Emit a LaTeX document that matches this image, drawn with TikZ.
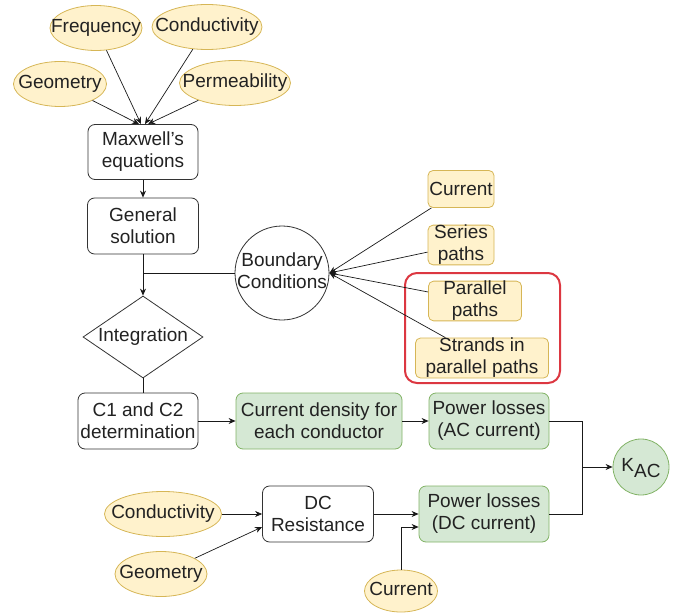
\documentclass[tikz,border=0pt]{standalone}
\usepackage{fontspec}
\setmainfont{Liberation Sans}
\usetikzlibrary{shapes.geometric,arrows.meta,calc}
\definecolor{yfill}{HTML}{FFF2CC}
\definecolor{ydraw}{HTML}{D6B656}
\definecolor{gfill}{HTML}{D5E8D4}
\definecolor{gdraw}{HTML}{82B366}
\definecolor{txt}{HTML}{222222}
\definecolor{redbox}{RGB}{220,55,65}
\newcommand{\zb}[1]{\makebox[0pt]{\begin{tabular}{@{}c@{}}#1\end{tabular}}}
\tikzset{
  base/.style={inner sep=0pt, align=center, text=txt, font=\fontsize{19}{22}\selectfont},
  yell/.style={base, ellipse, fill=yfill, draw=ydraw, line width=0.8pt},
  ybox/.style={base, rectangle, rounded corners=5pt, fill=yfill, draw=ydraw, line width=0.8pt},
  wbox/.style={base, rectangle, rounded corners=7pt, fill=white, draw=black!80, line width=0.8pt},
  gbox/.style={base, rectangle, rounded corners=7pt, fill=gfill, draw=gdraw, line width=0.8pt},
  conn/.style={line width=0.7pt, draw=black!90},
  arr/.style={conn, -{Stealth[length=7pt,width=6pt]}},
}
\begin{document}
\begin{tikzpicture}[x=1pt,y=-1pt]
\useasboundingbox (0,0) rectangle (676,612);
% top ellipses
\node[yell, minimum width=92, minimum height=45] (freq) at (96,28) {\zb{Frequency}};
\node[yell, minimum width=110, minimum height=45] (cond1) at (207,27) {\zb{Conductivity}};
\node[yell, minimum width=93, minimum height=45] (geo1) at (60,84) {\zb{Geometry}};
\node[yell, minimum width=111, minimum height=45] (perm) at (235,83) {\zb{Permeability}};
% main column
\node[wbox, minimum width=110, minimum height=55] (mx) at (143,152) {Maxwell's\\equations};
\node[wbox, minimum width=111, minimum height=56] (gs) at (143,226) {General\\solution};
\node[base, diamond, draw=black!80, line width=0.8pt, fill=white, minimum width=120, minimum height=82] (integ) at (143,337) {\zb{Integration}};
\node[wbox, minimum width=120, minimum height=56] (c1) at (138,421) {C1 and C2\\determination};
\node[base, circle, draw=black!80, line width=0.8pt, fill=white, minimum size=94] (bc) at (282,273) {\zb{Boundary\\Conditions}};
% right side inputs
\node[ybox, minimum width=66, minimum height=37] (cur1) at (461,189) {Current};
\node[ybox, minimum width=66, minimum height=37] (ser) at (461,245) {Series\\paths};
\node[ybox, minimum width=93, minimum height=38] (par) at (475,301) {Parallel\\paths};
\node[ybox, minimum width=133, minimum height=40] (str) at (482,358) {Strands in\\parallel paths};
\node[draw=redbox, line width=2pt, rounded corners=12pt, minimum width=155, minimum height=110, inner sep=0pt] (red) at (482.5,328) {};
% green
\node[gbox, minimum width=166, minimum height=56] (cd) at (319,421) {Current density for\\each conductor};
\node[gbox, minimum width=120, minimum height=56] (pac) at (489,421) {Power losses\\(AC current)};
\node[gbox, minimum width=130, minimum height=56] (pdc) at (484,514) {Power losses\\(DC current)};
\node[base, circle, fill=gfill, draw=gdraw, line width=0.8pt, minimum size=56] (kac) at (641,467) {\zb{K\raisebox{-6pt}{AC}}};
% bottom
\node[wbox, minimum width=111, minimum height=56] (dcr) at (318,514) {DC\\Resistance};
\node[yell, minimum width=117, minimum height=45] (cond2) at (163,514) {\zb{Conductivity}};
\node[yell, minimum width=92, minimum height=45] (geo2) at (161,574) {\zb{Geometry}};
\node[yell, minimum width=73, minimum height=42] (cur2) at (401,591) {\zb{Current}};
\coordinate (j) at (582,467);
% connectors top
\draw[arr] (geo1) -- ($(mx.north)+(-4,0)$);
\draw[arr] (freq) -- ($(mx.north)+(-2,0)$);
\draw[arr] (cond1) -- ($(mx.north)+(2,0)$);
\draw[arr] (perm) -- ($(mx.north)+(5,0)$);
\draw[arr] (mx) -- (gs);
\draw[arr] (gs) -- (integ);
\draw[conn] (bc.west) -- (gs.south |- bc.west);
\draw[conn] (integ.south) -- (integ.south |- c1.north);
\draw[arr] (cur1) -- (bc.east);
\draw[arr] (ser) -- (bc.east);
\draw[arr] (par) -- (bc.east);
\draw[arr] (str) -- (bc.east);
\draw[arr] (c1) -- (cd);
\draw[arr] (cd) -- (pac);
\draw[conn] (pac.east) -| (j);
\draw[conn] (pdc.east) -| (j);
\draw[arr] (j) -- (kac);
\draw[arr] (cond2) -- (dcr);
\draw[arr] (geo2) -- ($(dcr.west)+(0,13)$);
\draw[arr] (dcr) -- (pdc);
\draw[arr] (cur2.north) |- ($(pdc.west)+(0,13)$);
\end{tikzpicture}
\end{document}
